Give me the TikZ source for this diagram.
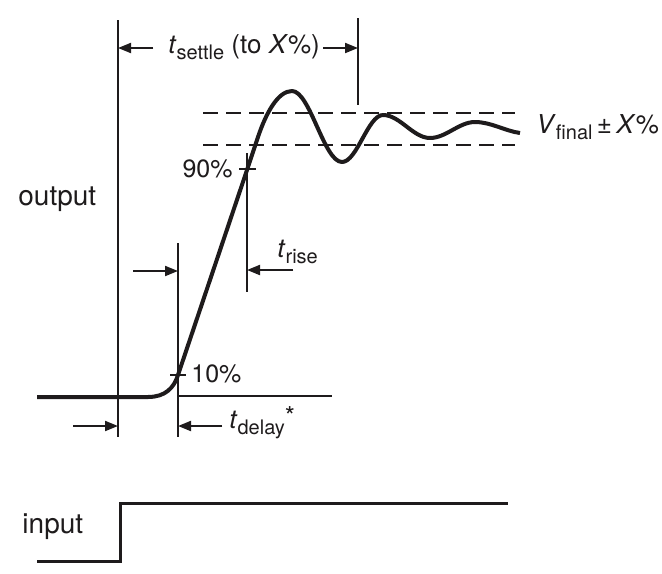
\documentclass[tikz,border=0pt]{standalone}
\usepackage{fontspec}
\setmainfont{TeX Gyre Heros}
\definecolor{inkBlack}{RGB}{30, 27, 28}
\usepackage{tikz}
\usetikzlibrary{arrows.meta}
\newcommand{\tlab}[2]{\textit{#1}\raisebox{-0.45ex}{\fontsize{10}{12}\selectfont #2}}

\begin{document}
\begin{tikzpicture}[
    x=0.5pt, y=-0.5pt,
    wave/.style={draw=inkBlack, line width=2pt, line join=round},
    marker/.style={draw=inkBlack, line width=1pt},
    dim/.style={-{Triangle[length=6.5pt, width=5pt]}, draw=inkBlack, fill=inkBlack, line width=1pt},
    band/.style={draw=inkBlack, dash pattern=on 7.5pt off 4pt},
    lbl/.style={inner sep=0pt, text=inkBlack, font=\fontsize{13}{15}\selectfont},
  ]
    \useasboundingbox (0,0) rectangle (662,573);

    % Reference points on the waveform
    \coordinate (start) at (37,397);
    \coordinate (knee) at (148,397);
    \coordinate (p10) at (178,375);
    \coordinate (p90) at (247,170);
    \coordinate (peak) at (292,91);

    % Settling band
    \coordinate (bandHiL) at (203,113);
    \coordinate (bandHiR) at (515,113);
    \coordinate (bandLoL) at (203,145);
    \coordinate (bandLoR) at (515,145);
    \draw[band, line width=0.7pt] (bandHiL) -- (bandHiR);
    \draw[band, line width=1pt] (bandLoL) -- (bandLoR);

    % Output waveform
    \draw[wave] (start) -- (knee)
          .. controls (165,397) and (174,388) .. (p10)
          -- (p90) -- (258,137)
          .. controls (266,113) and (278,91) .. (peak)
          .. controls (310,91) and (324,162) .. (342,162)
          .. controls (357,162) and (368,115) .. (383,115)
          .. controls (400,115) and (413,138) .. (430,138)
          .. controls (446,138) and (459,122) .. (475,122)
          .. controls (491,122) and (505,131) .. (520,133);

    % Vertical markers
    \coordinate (setL0) at (118,20);
    \coordinate (setL1) at (118,437);
    \coordinate (setR0) at (358,18);
    \coordinate (setR1) at (358,105);
    \coordinate (dlyR0) at (178,243);
    \coordinate (dlyR1) at (178,437);
    \coordinate (riseR0) at (247,153);
    \coordinate (riseR1) at (247,292);
    \coordinate (baseL) at (178,396);
    \coordinate (baseR) at (332,396);
    \draw[marker] (setL0) -- (setL1);
    \draw[marker] (setR0) -- (setR1);
    \draw[marker] (dlyR0) -- (dlyR1);
    \draw[marker] (riseR0) -- (riseR1);
    \draw[marker] (baseL) -- (baseR);

    % Ticks at 10% and 90%
    \coordinate (tk90a) at (239,169);
    \coordinate (tk90b) at (256,169);
    \coordinate (tk10a) at (170,375);
    \coordinate (tk10b) at (186,375);
    \draw[marker] (tk90a) -- (tk90b);
    \draw[marker] (tk10a) -- (tk10b);
    \node[lbl, anchor=base east, font=\fontsize{12.5}{15}\selectfont] (lab90) at (233,177) {90\%};
    \node[lbl, anchor=base west, font=\fontsize{12.5}{15}\selectfont] (lab10) at (191,382) {10\%};

    % Settling time
    \node[lbl, anchor=base west] (settle) at (168,53) {\tlab{t}{settle} (to \textit{X}\%)};
    \coordinate (setA) at (153,48);
    \coordinate (setAt) at (118,48);
    \coordinate (setB) at (323,48);
    \coordinate (setBt) at (358,48);
    \draw[dim] (setA) -- (setAt);
    \draw[dim] (setB) -- (setBt);

    % Rise time
    \node[lbl, anchor=base west] (rise) at (277,257) {\tlab{t}{rise}};
    \coordinate (riseA) at (133,271);
    \coordinate (riseAt) at (178,271);
    \coordinate (riseB) at (293,270);
    \coordinate (riseBt) at (247,270);
    \draw[dim] (riseA) -- (riseAt);
    \draw[dim] (riseB) -- (riseBt);

    % Delay time
    \node[lbl, anchor=base west] (delay) at (229,428)
         {\tlab{t}{delay}\raisebox{0.2ex}{*}};
    \coordinate (dlyA) at (73,426);
    \coordinate (dlyAt) at (118,426);
    \coordinate (dlyB) at (222,426);
    \coordinate (dlyBt) at (178,426);
    \draw[dim] (dlyA) -- (dlyAt);
    \draw[dim] (dlyB) -- (dlyBt);

    % Final value
    \node[lbl, anchor=base west] (final) at (536,133)
         {\textit{V}\raisebox{-0.45ex}{\fontsize{10}{12}\selectfont final}\,±\,\textit{X}\%};

    % Axis labels
    \node[lbl, anchor=base west, font=\fontsize{14}{16}\selectfont] (outLab) at (18,205) {output};
    \node[lbl, anchor=base west, font=\fontsize{14}{16}\selectfont] (inLab) at (22,533) {input};

    % Input step
    \coordinate (inA) at (37,561);
    \coordinate (inB) at (120,561);
    \coordinate (inC) at (120,503);
    \coordinate (inD) at (508,503);
    \draw[draw=inkBlack, line width=1.5pt] (inA) -- (inB) -- (inC) -- (inD);
  \end{tikzpicture}
\end{document}
